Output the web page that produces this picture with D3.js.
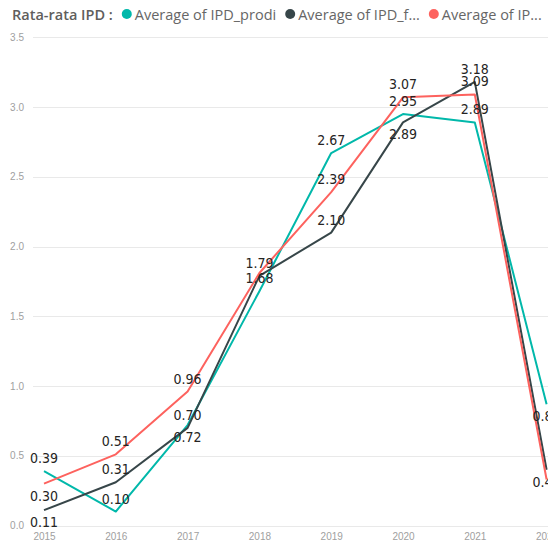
<!DOCTYPE html>
<meta charset="utf-8">
<style>
body { margin: 0; background: #fff; }
svg { display: block; font-family: "Open Sans", "Noto Sans", sans-serif; }
.grid line { stroke: #e9e9e9; stroke-width: 1; }
.axis text { fill: #a0a0a0; font-size: 10px; }
.lbl { font-family: "DejaVu Sans Condensed", "DejaVu Sans", sans-serif; font-size: 14px; fill: #252423; }
</style>
<svg width="548" height="546"></svg>
<script src="https://d3js.org/d3.v7.min.js"></script>
<script>

// data
var years = [2015, 2016, 2017, 2018, 2019, 2020, 2021, 2022];
var ipdProdi = [0.39, 0.10, 0.72, 1.68, 2.67, 2.95, 2.89, 0.87];
var ipdF     = [0.11, 0.31, 0.70, 1.79, 2.10, 2.89, 3.18, 0.40];
var ipdOther = [0.30, 0.51, 0.96, 1.81, 2.39, 3.07, 3.09, 0.33];
var yTicks = [0, 0.5, 1.0, 1.5, 2.0, 2.5, 3.0, 3.5];
var legendTitle = "Rata-rata IPD :";
var seriesNames = ["Average of IPD_prodi", "Average of IPD_f...", "Average of IP..."];

// where Power BI put each data label (null = label hidden)
var labelPos = [
  ["a", "a", "b", "a", "a", "a", "a", "b"],
  ["b", "a", "a", "a", "a", "b", "a", "b"],
  ["b", "a", "a", null, "a", "a", "a", null]
];

var colors = ["#01B8AA", "#374649", "#FD625E"];

var svg = d3.select("svg"),
    width = +svg.attr("width"),
    height = +svg.attr("height");

var x = d3.scalePoint().domain(years).range([44, 546.6]);
var y = d3.scaleLinear().domain([0, 3.5]).range([525.5, 37.3]);

// gridlines
svg.append("g").attr("class", "grid")
  .selectAll("line")
  .data(yTicks)
  .enter().append("line")
    .attr("x1", 33).attr("x2", width)
    .attr("y1", function(d) { return Math.round(y(d)) + 0.5; })
    .attr("y2", function(d) { return Math.round(y(d)) + 0.5; });

// y axis labels
svg.append("g").attr("class", "axis")
  .attr("transform", "translate(24,0)")
  .call(d3.axisLeft(y).tickValues(yTicks).tickFormat(d3.format(".1f")).tickSize(0).tickPadding(0))
  .call(function(g) { g.select(".domain").remove(); })
  .selectAll("text").attr("fill", "#a0a0a0");

// x axis labels
svg.append("g").attr("class", "axis")
  .attr("transform", "translate(0,530)")
  .call(d3.axisBottom(x).tickSize(0).tickPadding(3))
  .call(function(g) { g.select(".domain").remove(); })
  .selectAll("text").attr("fill", "#8c8c8c");

var series = [ipdProdi, ipdF, ipdOther];

var line = d3.line()
  .x(function(d, i) { return x(years[i]); })
  .y(function(d) { return y(d); });

svg.append("g")
  .selectAll("path")
  .data(series)
  .enter().append("path")
    .attr("d", line)
    .attr("fill", "none")
    .attr("stroke", function(d, i) { return colors[i]; })
    .attr("stroke-width", 2)
    .attr("stroke-linejoin", "round");

// data labels
series.forEach(function(vals, s) {
  svg.append("g")
    .selectAll("text")
    .data(vals.map(function(v, i) { return { v: v, i: i, pos: labelPos[s][i] }; })
               .filter(function(d) { return d.pos; }))
    .enter().append("text")
      .attr("class", "lbl")
      .attr("text-anchor", "middle")
      .attr("dominant-baseline", "central")
      .attr("x", function(d) { return x(years[d.i]); })
      .attr("y", function(d) { return y(d.v) + (d.pos == "a" ? -13 : 12); })
      .text(function(d) { return d3.format(".2f")(d.v); });
});

// legend
var legend = svg.append("g").attr("transform", "translate(12,14)");
var title = legend.append("text")
  .attr("dominant-baseline", "central")
  .attr("font-size", 14.5)
  .attr("font-weight", 600)
  .attr("fill", "#605e5c")
  .text(legendTitle);

var cursor = title.node().getComputedTextLength() + 14;
seriesNames.forEach(function(name, i) {
  legend.append("circle")
    .attr("cx", cursor).attr("cy", 0).attr("r", 5)
    .attr("fill", colors[i]);
  var t = legend.append("text")
    .attr("x", cursor + 8)
    .attr("dominant-baseline", "central")
    .attr("font-size", 14.5)
    .attr("fill", "#666")
    .text(name);
  cursor += 8 + t.node().getComputedTextLength() + 14;
});

</script>
